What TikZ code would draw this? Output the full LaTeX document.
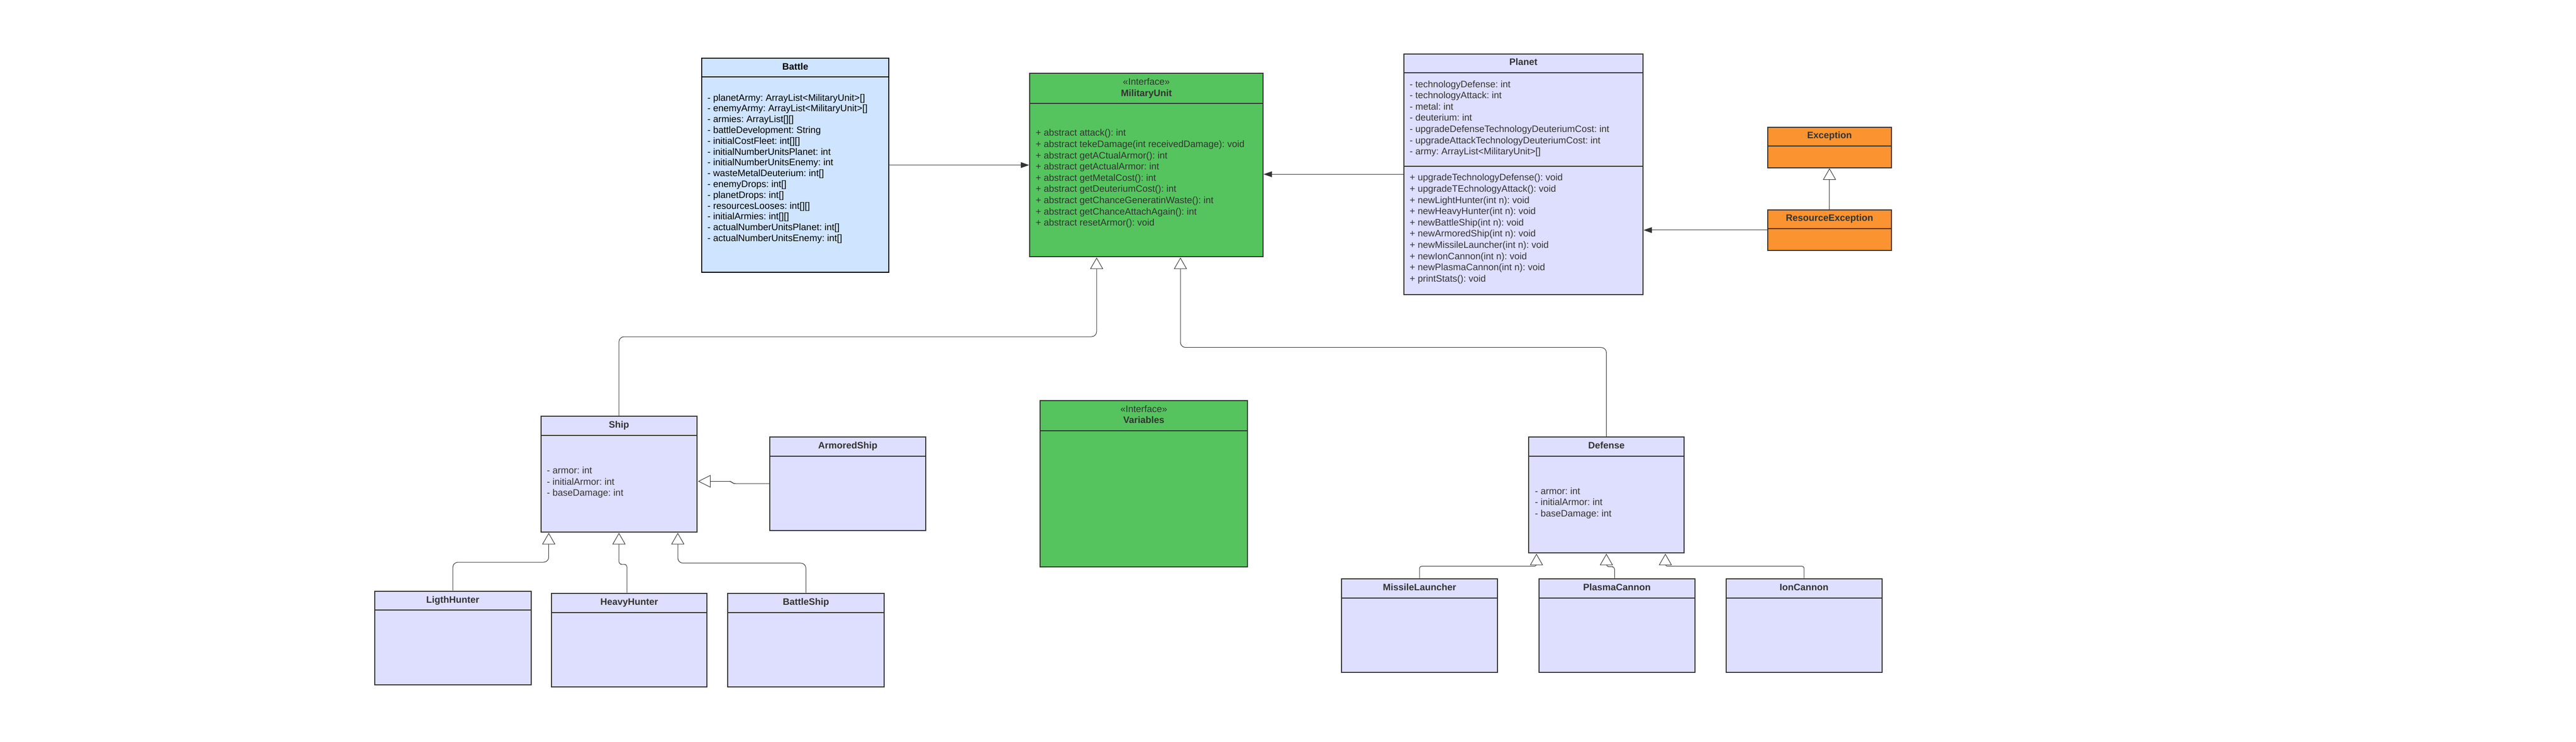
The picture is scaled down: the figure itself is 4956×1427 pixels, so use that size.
\documentclass[tikz,border=0pt]{standalone}
\usepackage{fontspec}
\setmainfont{Liberation Sans}
\usetikzlibrary{arrows.meta,calc}
\definecolor{boxline}{HTML}{333333}
\definecolor{txt}{HTML}{333333}
\definecolor{lav}{HTML}{DEDEFE}
\definecolor{bluefill}{HTML}{CFE4FF}
\definecolor{greenfill}{HTML}{55C45E}
\definecolor{orangefill}{HTML}{FB9331}
\frenchspacing
\begin{document}
\begin{tikzpicture}[x=1pt,y=-1pt,
  box/.style={draw=boxline, line width=2pt, inner sep=0pt, anchor=north west, fill=lav},
  ttl/.style={font=\frenchspacing\bfseries\fontsize{18}{21.6}\selectfont, text=txt, inner sep=0pt, anchor=base},
  stereo/.style={font=\fontsize{18}{21.6}\selectfont, text=txt, inner sep=0pt, anchor=base},
  mem/.style={font=\frenchspacing\fontsize{18}{21.6}\selectfont, text=txt, inner sep=0pt, anchor=west, align=left},
  sepl/.style={draw=boxline, line width=2pt},
  assoc/.style={draw=boxline, line width=1pt, -{Triangle[length=16pt,width=11pt]}},
  inherit/.style={draw=boxline, line width=1pt, rounded corners=10pt, -{Triangle[length=22pt,width=25pt,fill=white]}},
  jog/.style={inherit, rounded corners=5pt}
]
\useasboundingbox[fill=white] (0,0) rectangle (4956,1427);

% ---------- Battle ----------
\node[box, fill=bluefill, draw=black, minimum width=360pt, minimum height=412pt] (battle) at (1349,110.7) {};
\draw[sepl, draw=black] ([yshift=-37.3pt]battle.north west) -- ([yshift=-37.3pt]battle.north east);
\node[ttl, text=black] (battleT) at ($(battle.north)+(0,23.3)$) {Battle};
\node[mem, text=black, font=\frenchspacing\fontsize{18}{20.8}\selectfont] (battleM) at ($(battle.west)+(12,7)$) {%
- planetArmy: ArrayList<MilitaryUnit>[]\\
- enemyArmy: ArrayList<MilitaryUnit>[]\\
- armies: ArrayList[][]\\
- battleDevelopment: String\\
- initialCostFleet: int[][]\\
- initialNumberUnitsPlanet: int\\
- initialNumberUnitsEnemy: int\\
- wasteMetalDeuterium: int[]\\
- enemyDrops: int[]\\
- planetDrops: int[]\\
- resourcesLooses: int[][]\\
- initialArmies: int[][]\\
- actualNumberUnitsPlanet: int[]\\
- actualNumberUnitsEnemy: int[]};

% ---------- MilitaryUnit ----------
\node[box, fill=greenfill, minimum width=449pt, minimum height=352.7pt] (mu) at (1980,140) {};
\draw[sepl] ([yshift=-59pt]mu.north west) -- ([yshift=-59pt]mu.north east);
\node[stereo] (muS) at ($(mu.north)+(0,23.8)$) {«Interface»};
\node[ttl] (muT) at ($(mu.north)+(0,45.5)$) {MilitaryUnit};
\node[mem] (muM) at ($(mu.north west)+(12.4,203.6)$) {%
+ abstract attack(): int\\
+ abstract tekeDamage(int receivedDamage): void\\
+ abstract getACtualArmor(): int\\
+ abstract getActualArmor: int\\
+ abstract getMetalCost(): int\\
+ abstract getDeuteriumCost(): int\\
+ abstract getChanceGeneratinWaste(): int\\
+ abstract getChanceAttachAgain(): int\\
+ abstract resetArmor(): void};

% ---------- Planet ----------
\node[box, minimum width=460.4pt, minimum height=463.3pt] (planet) at (2699.6,102.7) {};
\draw[sepl] ([yshift=-37.3pt]planet.north west) -- ([yshift=-37.3pt]planet.north east);
\draw[sepl] ([yshift=-217pt]planet.north west) -- ([yshift=-217pt]planet.north east);
\node[ttl] (planetT) at ($(planet.north)+(0,23)$) {Planet};
\node[mem] (planetA) at ($(planet.north west)+(12.2,125.6)$) {%
- technologyDefense: int\\
- technologyAttack: int\\
- metal: int\\
- deuterium: int\\
- upgradeDefenseTechnologyDeuteriumCost: int\\
- upgradeAttackTechnologyDeuteriumCost: int\\
- army: ArrayList<MilitaryUnit>[]};
\node[mem] (planetM) at ($(planet.north west)+(12.2,337.8)$) {%
+ upgradeTechnologyDefense(): void\\
+ upgradeTEchnologyAttack(): void\\
+ newLightHunter(int n): void\\
+ newHeavyHunter(int n): void\\
+ newBattleShip(int n): void\\
+ newArmoredShip(int n): void\\
+ newMissileLauncher(int n): void\\
+ newIonCannon(int n): void\\
+ newPlasmaCannon(int n): void\\
+ printStats(): void};

% ---------- Exceptions ----------
\node[box, fill=orangefill, minimum width=238.5pt, minimum height=78pt] (exception) at (3399.5,244) {};
\draw[sepl] ([yshift=-37pt]exception.north west) -- ([yshift=-37pt]exception.north east);
\node[ttl] (exceptionT) at ($(exception.north)+(0,22.8)$) {Exception};
\node[box, fill=orangefill, minimum width=238.5pt, minimum height=78.3pt] (resexc) at (3399.5,402.7) {};
\draw[sepl] ([yshift=-37pt]resexc.north west) -- ([yshift=-37pt]resexc.north east);
\node[ttl] (resexcT) at ($(resexc.north)+(0,23)$) {ResourceException};

% ---------- Ship family ----------
\node[box, minimum width=300.4pt, minimum height=222.5pt] (ship) at (1039.6,800) {};
\draw[sepl] ([yshift=-37.7pt]ship.north west) -- ([yshift=-37.7pt]ship.north east);
\node[ttl] (shipT) at ($(ship.north)+(0,23.2)$) {Ship};
\node[mem] (shipM) at ($(ship.north west)+(12.4,128.5)$) {%
- armor: int\\
- initialArmor: int\\
- baseDamage: int};

\node[box, minimum width=300pt, minimum height=179.5pt] (armored) at (1480,840) {};
\draw[sepl] ([yshift=-38pt]armored.north west) -- ([yshift=-38pt]armored.north east);
\node[ttl] (armoredT) at ($(armored.north)+(0,23.2)$) {ArmoredShip};

\node[box, minimum width=301pt, minimum height=180.3pt] (ligth) at (719.6,1136.7) {};
\draw[sepl] ([yshift=-37.3pt]ligth.north west) -- ([yshift=-37.3pt]ligth.north east);
\node[ttl] (ligthT) at ($(ligth.north)+(0,23.5)$) {LigthHunter};

\node[box, minimum width=299.4pt, minimum height=180.3pt] (heavy) at (1060,1140.7) {};
\draw[sepl] ([yshift=-38.3pt]heavy.north west) -- ([yshift=-38.3pt]heavy.north east);
\node[ttl] (heavyT) at ($(heavy.north)+(0,23.5)$) {HeavyHunter};

\node[box, minimum width=300.2pt, minimum height=180.3pt] (battleship) at (1399.4,1140.7) {};
\draw[sepl] ([yshift=-38.3pt]battleship.north west) -- ([yshift=-38.3pt]battleship.north east);
\node[ttl] (battleshipT) at ($(battleship.north)+(0,23.5)$) {BattleShip};

% ---------- Variables ----------
\node[box, fill=greenfill, minimum width=399.3pt, minimum height=320pt] (variables) at (2000,770) {};
\draw[sepl] ([yshift=-59pt]variables.north west) -- ([yshift=-59pt]variables.north east);
\node[stereo] (variablesS) at ($(variables.north)+(0,23.8)$) {«Interface»};
\node[ttl] (variablesT) at ($(variables.north)+(0,44.8)$) {Variables};

% ---------- Defense family ----------
\node[box, minimum width=299pt, minimum height=222.7pt] (defense) at (2940,840) {};
\draw[sepl] ([yshift=-37.7pt]defense.north west) -- ([yshift=-37.7pt]defense.north east);
\node[ttl] (defenseT) at ($(defense.north)+(0,23.2)$) {Defense};
\node[mem] (defenseM) at ($(defense.north west)+(13,128.3)$) {%
- armor: int\\
- initialArmor: int\\
- baseDamage: int};

\node[box, minimum width=300pt, minimum height=180.3pt] (missile) at (2580,1112.7) {};
\draw[sepl] ([yshift=-38pt]missile.north west) -- ([yshift=-38pt]missile.north east);
\node[ttl] (missileT) at ($(missile.north)+(0,23.8)$) {MissileLauncher};

\node[box, minimum width=299.7pt, minimum height=180.3pt] (plasma) at (2960,1112.7) {};
\draw[sepl] ([yshift=-38pt]plasma.north west) -- ([yshift=-38pt]plasma.north east);
\node[ttl] (plasmaT) at ($(plasma.north)+(0,23.8)$) {PlasmaCannon};

\node[box, minimum width=300.4pt, minimum height=180.3pt] (ion) at (3319.6,1112.7) {};
\draw[sepl] ([yshift=-38pt]ion.north west) -- ([yshift=-38pt]ion.north east);
\node[ttl] (ionT) at ($(ion.north)+(0,23.8)$) {IonCannon};

% ---------- Associations ----------
\draw[assoc] (battle.east) -- (battle.east -| mu.west);
\draw[assoc] (planet.west) -- (planet.west -| mu.east);
\draw[assoc] (resexc.west) -- (resexc.west -| planet.east);

% ---------- Inheritance ----------
\draw[inherit] (resexc.north) -- (exception.south);
\draw[inherit] (ship.north) |- ($(mu.south west)+(129.8,153.3)$) -- ($(mu.south west)+(129.8,1)$);
\draw[inherit] (defense.north) |- ($(mu.south west)+(291,174)$) -- ($(mu.south west)+(291,1)$);

\draw[inherit] (ligth.north) |- ($(ship.south west)+(16.1,57.5)$) -- ($(ship.south west)+(16.1,1)$);
\draw[jog] ($(heavy.north)+(-4.5,0)$) |- ($(ship.south)+(7.7,61.5)$) -| ($(ship.south)+(0,1)$);
\draw[inherit] (battleship.north) |- ($(ship.south west)+(264.4,59.2)$) -- ($(ship.south west)+(264.4,1)$);
\draw[draw=boxline, line width=1pt, rounded corners=4pt, -{Triangle[length=24pt,width=24pt,fill=white]}]
  (armored.west) -- ($(armored.west)+(-69,0)$) -- ($(armored.west)+(-74,-4.5)$) -- ($(ship.east |- armored.west)+(1,-4.5)$);

\draw[jog, rounded corners=4pt] (missile.north) |- ($(defense.south west)+(16,25)$) -- ($(defense.south west)+(16,1)$);
\draw[jog] ($(plasma.north)+(-4.5,0)$) |- ($(defense.south)+(8,26)$) -| ($(defense.south)+(0,1)$);
\draw[jog, rounded corners=4pt] (ion.north) |- ($(defense.south west)+(264,25)$) -- ($(defense.south west)+(264,1)$);
\end{tikzpicture}
\end{document}
